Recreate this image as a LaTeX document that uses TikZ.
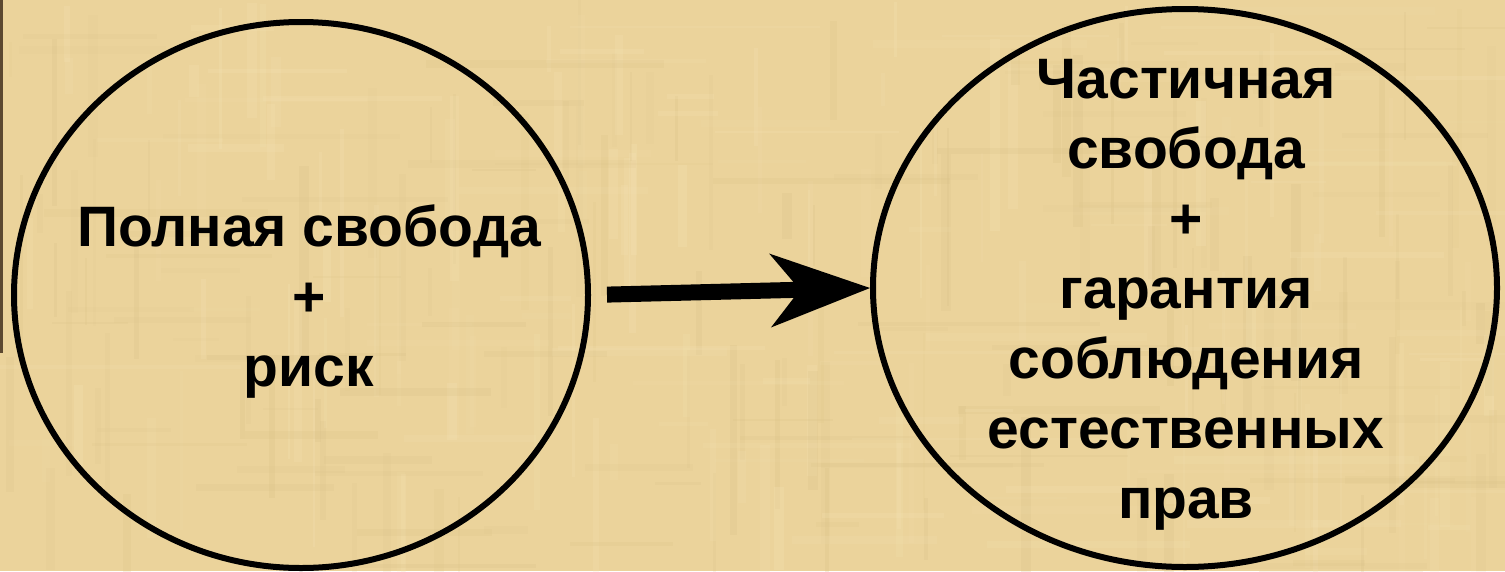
\documentclass[tikz,border=0pt]{standalone}
\usepackage{fontspec}
\setmainfont{Liberation Sans}
\usetikzlibrary{arrows.meta,shapes.geometric}
\definecolor{papyrus}{RGB}{235,211,155}
\definecolor{papylight}{RGB}{246,228,182}
\definecolor{papydark}{RGB}{216,192,134}
\definecolor{edgebar}{RGB}{92,72,48}
\tikzset{
  bubble/.style={draw=black, line width=6pt, ellipse, inner sep=0pt},
  bubbletext/.style={font=\bfseries\fontsize{57}{70}\selectfont, align=center, inner sep=0pt, text=black},
}
\begin{document}
\begin{tikzpicture}[x=1pt,y=-1pt]
\useasboundingbox (0,0) rectangle (1505,571);
% background
\fill[papyrus] (0,0) rectangle (1505,571);
\pgfmathsetseed{7}
\begin{scope}
\clip (0,0) rectangle (1505,571);
\foreach \i in {1,...,220}{
  \pgfmathsetmacro{\xa}{random(0,1505)}
  \pgfmathsetmacro{\wa}{random(2,10)}
  \pgfmathsetmacro{\op}{0.08+0.18*rnd}
  \pgfmathsetmacro{\ya}{random(0,500)}
  \pgfmathsetmacro{\ha}{random(30,200)}
  \ifodd\i
    \fill[papylight, opacity=\op] (\xa,\ya) rectangle ++(\wa,\ha);
  \else
    \fill[papydark, opacity=\op] (\xa,\ya) rectangle ++(\wa,\ha);
  \fi
}
\foreach \i in {1,...,160}{
  \pgfmathsetmacro{\ya}{random(0,571)}
  \pgfmathsetmacro{\ha}{random(2,8)}
  \pgfmathsetmacro{\op}{0.06+0.16*rnd}
  \pgfmathsetmacro{\xa}{random(0,1450)}
  \pgfmathsetmacro{\wa}{random(40,250)}
  \ifodd\i
    \fill[papydark, opacity=\op] (\xa,\ya) rectangle ++(\wa,\ha);
  \else
    \fill[papylight, opacity=\op] (\xa,\ya) rectangle ++(\wa,\ha);
  \fi
}
\end{scope}
\fill[edgebar] (0,0) rectangle (3,353);
% ellipses
\node[bubble, minimum width=574pt, minimum height=546pt] (L) at (301,295) {};
\node[bubble, minimum width=624pt, minimum height=558pt] (R) at (1185,288) {};
% texts (base = baseline of last line)
\node[bubbletext, anchor=base] (Ltext) at (309,386) {Полная свобода\\+\\риск};
\node[bubbletext, anchor=base] (Rtext) at (1186,518) {Частичная\\свобода\\+\\гарантия\\соблюдения\\естественных\\прав};
% arrow
\draw[line width=16pt, shorten <=16pt,
  -{Stealth[length=100pt, width=74pt, inset=30pt, line width=0pt]}]
  (L.east) -- (R.west);
\end{tikzpicture}
\end{document}
